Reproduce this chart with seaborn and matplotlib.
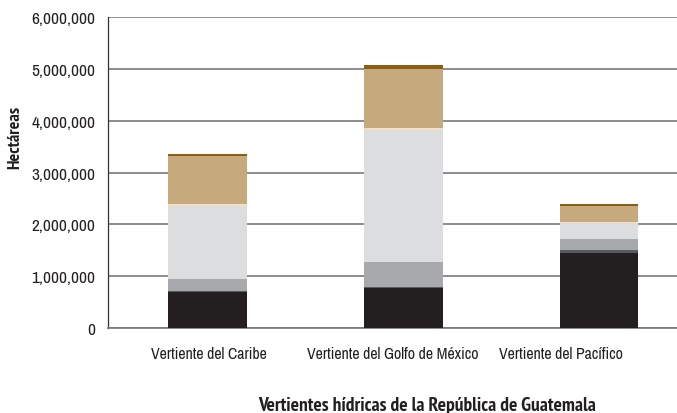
import numpy as np
import pandas as pd
import matplotlib
matplotlib.use("Agg")
import matplotlib.pyplot as plt
import seaborn as sns

categorias = ["Vertiente del Caribe", "Vertiente del Golfo de México", "Vertiente del Pacífico"]

# capas de abajo hacia arriba (hectáreas)
capa1 = [690000, 770000, 1450000]
capa2 = [30000, 30000, 60000]
capa3 = [230000, 480000, 210000]
capa4 = [1410000, 2540000, 300000]
capa5 = [30000, 40000, 30000]
capa6 = [920000, 1140000, 300000]
capa7 = [50000, 80000, 40000]

capas = [capa1, capa2, capa3, capa4, capa5, capa6, capa7]
colores = ["#231f20", "#58595b", "#a7a9ac", "#dcdddf", "#f2dfc6", "#c6aa7e", "#8b5e12"]

sns.set_style("white")
plt.rcParams["font.family"] = ["Archivo Narrow", "Liberation Sans", "DejaVu Sans"]
negrita = ["PT Sans Narrow", "Roboto Condensed", "Liberation Sans", "DejaVu Sans"]

fig = plt.figure(figsize=(6.77, 4.14), dpi=100)
ax = fig.add_axes([0.1595, 0.2053, 0.8405, 0.7512])

base = np.zeros(len(categorias))
for capa, color in zip(capas, colores):
    df = pd.DataFrame({"cat": categorias, "val": capa})
    sns.barplot(data=df, x="cat", y="val", bottom=base, color=color,
                width=0.404, ax=ax, saturation=1, zorder=3, linewidth=0)
    base = base + np.array(capa)

ax.set_xlim(-0.5115, 2.399)
ax.set_ylim(0, 6000000)
ax.set_yticks(range(0, 6000001, 1000000))
ax.set_yticklabels([f"{v:,}" for v in range(0, 6000001, 1000000)])
ax.yaxis.grid(True, color="#6d6e70", linewidth=1.1, zorder=0)
ax.set_axisbelow(True)

# etiquetas de categoría como en el original (no centradas bajo las barras)
ax.set_xticks([0.005, 0.946, 1.806])
ax.set_xticklabels(categorias)
ax.tick_params(axis="y", length=6, width=0.9, color="#333333", labelsize=12.5, labelcolor="#231f20", pad=3)
ax.tick_params(axis="x", length=0, labelsize=11.4, labelcolor="#231f20", pad=13)
ax.set_xticks([0.455, 1.412], minor=True)
ax.tick_params(axis="x", which="minor", length=6, width=0.9, color="#333333", direction="out")

for s in ["top", "right"]:
    ax.spines[s].set_visible(False)
ax.spines["left"].set_color("#333333")
ax.spines["left"].set_linewidth(0.9)
ax.spines["bottom"].set_color("#777777")
ax.spines["bottom"].set_linewidth(1.2)

ax.set_xlabel("Vertientes hídricas de la República de Guatemala", fontsize=14, fontweight="bold",
              family=negrita, color="#231f20", va="center")
ax.xaxis.set_label_coords(0.561, -0.247)
ax.set_ylabel("Hectáreas", fontsize=13, fontweight="bold", family=negrita,
              color="#231f20", va="center")
ax.yaxis.set_label_coords(-0.163, 0.617)

plt.savefig("out.png", dpi=100)
